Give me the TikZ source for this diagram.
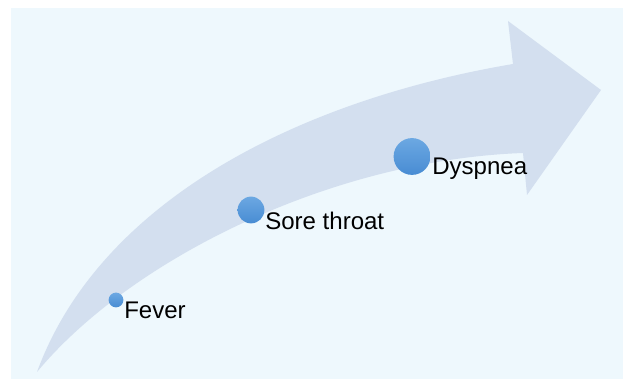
\documentclass[tikz,border=0pt]{standalone}
\usepackage{fontspec}
\setmainfont{Liberation Sans}
\usepackage{tikz}
\usetikzlibrary{positioning}
\definecolor{bgblue}{RGB}{238,248,253}
\definecolor{arrowblue}{RGB}{211,223,239}
\definecolor{dottop}{RGB}{108,168,226}
\definecolor{dotbot}{RGB}{72,140,211}

\tikzset{
  symdot/.style={circle, inner sep=0pt, top color=dottop, bottom color=dotbot},
  symlbl/.style={anchor=base west, inner sep=0pt, font=\fontsize{17.1}{20}\selectfont}
}

\begin{document}
\begin{tikzpicture}
  \useasboundingbox (0,0) rectangle (15.575,9.475);
  \fill[bgblue] (0.275,0) rectangle (15.575,9.275);
  % Curved arrow
  \fill[arrowblue] (0.925,0.175)
    .. controls (2.5,4.475) and (7.5,6.975) .. (12.825,7.875)
    -- (12.7,8.95) -- (15.025,7.225) -- (13.175,4.6) -- (13.075,5.65)
    .. controls (8.25,5.475) and (3.25,2.975) .. (0.925,0.175) -- cycle;
  % Symptoms
  \node[symdot, minimum size=0.37cm] (fever) at (2.9,1.975) {};
  \node[symdot, minimum size=0.67cm] (sore) at (6.275,4.225) {};
  \node[symdot, minimum size=0.92cm] (dyspnea) at (10.3,5.5625) {};
  \node[symlbl] (feverlbl) at (3.1,1.5) {Fever};
  \node[symlbl] (sorelbl) at (6.625,3.725) {Sore throat};
  \node[symlbl] (dyspnealbl) at (10.8,5.1) {Dyspnea};
\end{tikzpicture}
\end{document}
